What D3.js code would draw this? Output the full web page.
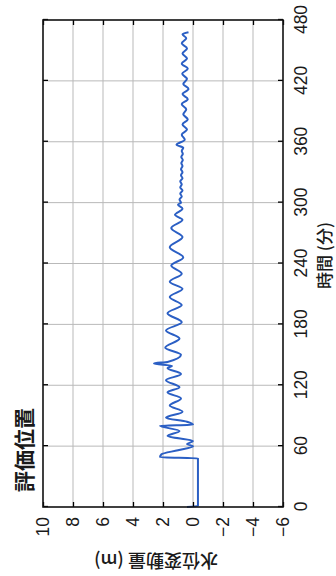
<!DOCTYPE html>
<html>
<head>
<meta charset="utf-8">
<script src="https://cdn.jsdelivr.net/npm/d3@7"></script>
<style>
  html, body { margin: 0; padding: 0; background: #ffffff; }
  svg { display: block; }
</style>
</head>
<body>
<svg id="chart" width="336" height="576"></svg>
<script>
// Water level change at the evaluation point, sampled at turning points (minutes, metres)
const timeMin = [
  0, 1, 48, 49, 52, 56, 60, 62, 65, 70, 75, 80, 81, 84, 88, 94, 100, 107, 113, 118,
  125, 131, 137, 139, 141.5, 143, 150, 157, 166, 174, 182, 191, 199, 207, 215, 222,
  230, 238, 246, 256, 266, 275, 283, 288, 294, 298, 300, 303, 306, 309, 312, 315,
  318, 321, 324, 327, 330, 333, 336, 339, 342, 345, 348, 351, 354, 357, 362, 367,
  372, 377, 382, 387, 392, 397, 402, 407, 412, 417, 422, 427, 432, 437, 442, 447,
  452, 457, 462, 466, 468
];
const waterLevel = [
  0.4, -0.33, -0.33, 2.2, 2.1, 1.0, 0.0, 0.4, 0.0, 1.7, 0.9, 2.2, 0.0, 0.4, 1.8, 0.7, 1.55, 0.8, 1.7, 0.9,
  1.8, 0.8, 1.7, 1.4, 2.6, 1.7, 0.8, 1.85, 0.9, 1.8, 0.75, 1.7, 0.75, 1.55, 0.7, 1.55,
  0.75, 1.45, 0.65, 1.55, 0.7, 1.45, 0.7, 1.2, 0.7, 1.0, 0.8, 0.9, 0.75, 0.85, 0.7, 0.85,
  0.75, 0.85, 0.7, 0.8, 0.7, 0.8, 0.7, 0.78, 0.68, 0.78, 0.68, 0.75, 0.65, 1.1, 0.55, 0.75,
  0.4, 0.7, 0.35, 0.65, 0.45, 0.75, 0.35, 0.7, 0.3, 0.65, 0.4, 0.72, 0.35, 0.75, 0.4, 0.7,
  0.4, 0.75, 0.45, 0.7, 0.3
];
const timeTicks = [0, 60, 120, 180, 240, 300, 360, 420, 480];
const levelTicks = [-6, -4, -2, 0, 2, 4, 6, 8, 10];
const titleText = "評価位置";
const timeLabel = "時間 (分)";
const levelLabel = "水位変動量 (m)";

const data = timeMin.map((t, i) => ({ t, v: waterLevel[i] }));

// The chart is laid out in its own frame and then turned a quarter turn
// counter-clockwise, so time runs upward and level runs right-to-left.
const W = 487, H = 240;
const originX = 43, originY = 507;
const latin = "'Liberation Sans', Arial, sans-serif";
const cjk = "'Noto Sans CJK JP', 'Noto Sans CJK SC', sans-serif";

const svg = d3.select("#chart");
const g = svg.append("g")
  .attr("transform", `translate(${originX},${originY}) rotate(-90)`);

const x = d3.scaleLinear().domain([0, 480]).range([0, W]);
const y = d3.scaleLinear().domain([-6, 10]).range([H, 0]);

// grid
const grid = g.append("g").attr("stroke", "#b9b9b9").attr("stroke-width", 1);
grid.selectAll(".gx").data(timeTicks.slice(1, -1)).join("line")
  .attr("x1", d => x(d)).attr("x2", d => x(d)).attr("y1", 0).attr("y2", H);
grid.selectAll(".gy").data(levelTicks.slice(1, -1)).join("line")
  .attr("y1", d => y(d)).attr("y2", d => y(d)).attr("x1", 0).attr("x2", W);

// data line
g.append("path")
  .datum(data)
  .attr("fill", "none")
  .attr("stroke", "#2b5fc4")
  .attr("stroke-width", 2)
  .attr("stroke-linejoin", "round")
  .attr("d", d3.line().x(d => x(d.t)).y(d => y(d.v)).curve(d3.curveMonotoneX));

// axes with inward ticks on all four sides
const tickLen = 5;
const styleAxis = sel => {
  sel.select(".domain").remove();
  sel.selectAll(".tick line").attr("stroke", "#000").attr("stroke-width", 1.3);
  sel.selectAll(".tick text").attr("fill", "#1a1a1a").style("font-family", latin).style("font-size", "17.5px");
};

g.append("g").attr("transform", `translate(0,${H})`)
  .call(d3.axisBottom(x).tickValues(timeTicks).tickFormat(d3.format("d"))
    .tickSizeInner(-tickLen).tickSizeOuter(0).tickPadding(12))
  .call(styleAxis);
g.append("g")
  .call(d3.axisTop(x).tickValues(timeTicks).tickFormat("").tickSizeInner(-tickLen).tickSizeOuter(0))
  .call(styleAxis);
g.append("g")
  .call(d3.axisLeft(y).tickValues(levelTicks).tickFormat(d3.format("d"))
    .tickSizeInner(-tickLen).tickSizeOuter(0).tickPadding(10))
  .call(styleAxis);
g.append("g").attr("transform", `translate(${W},0)`)
  .call(d3.axisRight(y).tickValues(levelTicks).tickFormat("").tickSizeInner(-tickLen).tickSizeOuter(0))
  .call(styleAxis);

// frame
g.append("rect")
  .attr("x", 0).attr("y", 0).attr("width", W).attr("height", H)
  .attr("fill", "none").attr("stroke", "#111").attr("stroke-width", 1.6);

// axis titles
g.append("text")
  .attr("x", W / 2 + 8).attr("y", H + 48)
  .attr("text-anchor", "middle")
  .style("font-family", cjk).style("font-size", "17px").style("font-weight", "500").attr("fill", "#1a1a1a")
  .text(timeLabel);

g.append("text")
  .attr("transform", `translate(-47,${H / 2 - 7}) rotate(-90)`)
  .attr("text-anchor", "middle")
  .style("font-family", cjk).style("font-size", "18px").style("font-weight", "500").attr("fill", "#1a1a1a")
  .text(levelLabel);

// chart title
g.append("text")
  .attr("x", 15).attr("y", -11.5)
  .style("font-family", cjk).style("font-size", "21px").style("font-weight", "bold")
  .attr("fill", "#1a1a1a")
  .text(titleText);
</script>
</body>
</html>
